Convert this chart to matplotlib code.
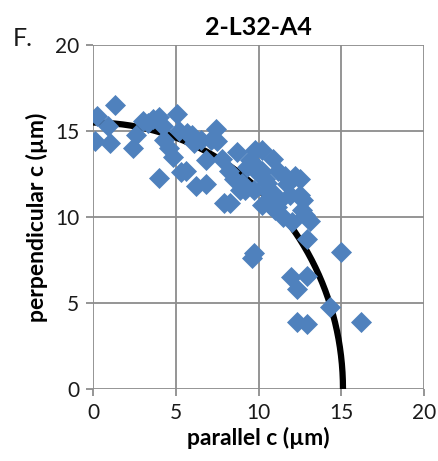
import numpy as np
import matplotlib
matplotlib.use("Agg")
import matplotlib.pyplot as plt

# Measured cell dimensions (µm)
parallel = [0.1, 0.25, 0.9, 1.0, 1.3, 2.4, 2.6, 3.3, 3.6, 4.0, 4.2, 4.0, 4.3, 4.6,
            4.8, 5.1, 5.2, 5.3, 5.6, 5.7, 6.1, 6.2, 6.8, 6.5, 6.8, 7.1, 7.4, 7.5,
            7.8, 8.2, 8.5, 7.9, 8.3, 8.9, 9.2, 9.7, 9.5, 9.8, 9.7, 9.6, 10.2, 10.2,
            10.4, 10.7, 10.2, 10.7, 11.0, 10.9, 11.2, 11.6, 11.7, 11.9, 12.2, 12.5,
            12.5, 12.6, 12.8, 13.1, 12.9, 12.7, 11.95, 12.3, 12.3, 12.9, 12.9, 15.0,
            14.3, 16.2, 9.9, 10.5, 11.3, 10.0, 9.3, 8.7, 6.0, 3.0, 11.5,
            12.0, 10.8, 9.0, 10.6, 11.1]
perpendicular = [14.4, 15.9, 15.3, 14.3, 16.5, 14.0, 14.8, 15.5, 15.7, 15.8, 15.3,
                 12.3, 14.5, 14.0, 13.5, 16.0, 15.0, 12.6, 12.7, 14.9, 14.3, 11.8,
                 11.9, 14.5, 13.3, 14.5, 15.1, 14.4, 13.4, 12.7, 12.2, 10.8, 10.8,
                 11.6, 11.6, 11.6, 13.3, 13.9, 7.9, 7.6, 13.9, 12.7, 12.2, 11.6, 10.7,
                 10.7, 10.4, 13.4, 12.7, 12.4, 11.9, 11.3, 12.4, 12.2, 11.3, 10.4,
                 10.1, 9.8, 8.7, 11.0, 6.5, 5.8, 3.9, 3.8, 6.6, 8.0, 4.8, 3.9, 12.9,
                 12.0, 11.0, 12.5, 12.9, 13.8, 14.8, 15.6, 10.0, 9.7, 11.3,
                 12.0, 11.4, 10.6]

# Quarter-ellipse outline, semi-axes in µm
semi_parallel = 15.1
semi_perpendicular = 15.5

ticks = [0, 5, 10, 15, 20]

plt.rcParams["font.family"] = ["Lato", "DejaVu Sans"]

fig = plt.figure(figsize=(4.39, 4.61), dpi=100)
ax = fig.add_axes([0.212, 0.156, 0.754, 0.746])

grid_c = "#8c8c8c"
for t in ticks:
    ax.axhline(t, color=grid_c, lw=1.3, zorder=0)
    ax.axvline(t, color=grid_c, lw=1.3, zorder=0)

theta = np.linspace(0, np.pi / 2, 200)
ax.plot(semi_parallel * np.cos(theta), semi_perpendicular * np.sin(theta),
        color="black", lw=4.5, zorder=2, solid_capstyle="butt")

ax.scatter(parallel, perpendicular, marker="D", s=115, color="#4F81BD",
           linewidths=0, zorder=3)

ax.set_xlim(0, 20)
ax.set_ylim(0, 20)
ax.set_xticks(ticks)
ax.set_yticks(ticks)
for s in ax.spines.values():
    s.set_visible(False)
ax.tick_params(axis="both", direction="out", length=5, width=1.3, color=grid_c,
               labelsize=15, labelcolor="#1a1a1a", pad=5)

ax.set_xlabel("parallel c (µm)", fontsize=16.5, fontweight="bold", labelpad=3)
ax.set_ylabel("perpendicular c (µm)", fontsize=16.5, fontweight="bold",
              labelpad=5)
ax.set_title("2-L32-A4", fontsize=18, fontweight="bold", pad=7)
fig.text(0.03, 0.9, "F.", fontsize=18, color="#1a1a1a")

fig.savefig("out.png", dpi=100)
